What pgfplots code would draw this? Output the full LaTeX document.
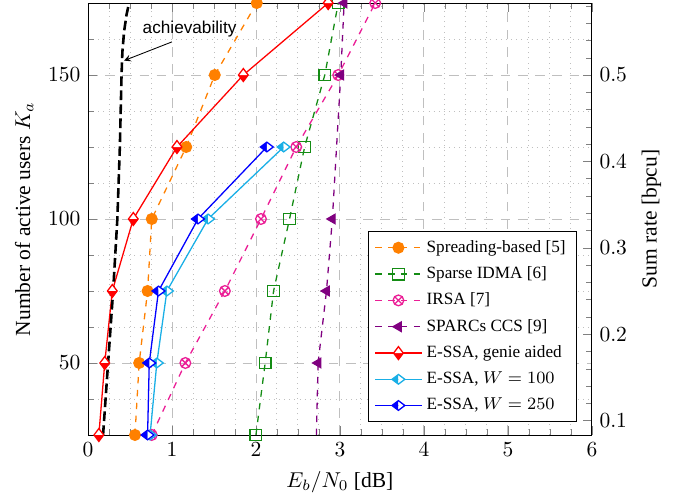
\documentclass[border=0pt]{standalone}
\usepackage{fontspec}
\setmainfont{Liberation Serif}
\setsansfont{Liberation Sans}
\usepackage{pgfplots}
\pgfplotsset{compat=1.18}
\usetikzlibrary{plotmarks}

\definecolor{cOrange}{RGB}{255,128,0}
\definecolor{cGreen}{RGB}{20,140,20}
\definecolor{cPink}{RGB}{235,30,150}
\definecolor{cPurple}{RGB}{128,0,128}
\definecolor{cCyan}{RGB}{25,175,230}

\begin{document}
\begin{tikzpicture}
\useasboundingbox (-40.9pt,-28.8pt) rectangle (276.3pt,202.3pt);
\begin{axis}[
  width=234.4pt, height=200.9pt, scale only axis,
  xmin=0, xmax=6, ymin=25, ymax=175,
  xtick={0,1,2,3,4,5,6}, ytick={50,100,150},
  minor x tick num=3,
  minor ytick={37.5,62.5,75,87.5,112.5,125,137.5,162.5},
  ytick pos=left,
  grid=both,
  major grid style={dash pattern=on 4.5pt off 3.5pt, gray!50},
  minor grid style={dotted, gray!50},
  xlabel={$E_b/N_0$ [dB]},
  ylabel={Number of active users $K_a$},
  legend style={at={(0.97,0.03)}, anchor=south east, font=\footnotesize, row sep=1.2pt},
  legend cell align=left,
  legend image code/.code={\draw[mark repeat=2,mark phase=2] plot coordinates {(0cm,0cm) (0.38cm,0cm) (0.76cm,0cm)};},
  every axis plot/.append style={semithick, mark size=2.5pt},
]
% Spreading-based
\addplot[cOrange, dashed, mark=*, mark options={solid}] coordinates {
  (0.56,25) (0.61,50) (0.71,75) (0.76,100) (1.17,125) (1.51,150) (2.01,175)};
\addlegendentry{Spreading-based [5]}
% Sparse IDMA
\addplot[cGreen, dashed, mark=square, mark options={solid}, mark size=2.7pt] coordinates {
  (2.00,25) (2.11,50) (2.21,75) (2.40,100) (2.58,125) (2.82,150) (2.98,175)};
\addlegendentry{Sparse IDMA [6]}
% IRSA
\addplot[cPink, dashed, mark=otimes, mark options={solid}] coordinates {
  (0.76,25) (1.16,50) (1.63,75) (2.06,100) (2.48,125) (2.98,150) (3.42,175)};
\addlegendentry{IRSA [7]}
% SPARCs CCS
\addplot[cPurple, dashed, mark=triangle*, mark options={solid, rotate=90}] coordinates {
  (2.74,50) (2.84,75) (2.91,100) (3.01,150) (3.05,175)};
\addlegendentry{SPARCs CCS [9]}
\addplot[cPurple, dashed, forget plot] coordinates {(2.72,25) (2.74,50)};
% E-SSA genie aided
\addplot[red, mark=halfdiamond*, mark size=3pt, mark options={solid, fill=red}] coordinates {
  (0.13,25) (0.20,50) (0.29,75) (0.54,100) (1.06,125) (1.85,150) (2.86,175)};
\addlegendentry{E-SSA, genie aided}
% E-SSA W=100
\addplot[cCyan, mark=halfdiamond*, mark size=3pt, mark options={solid, fill=cCyan, rotate=-90}] coordinates {
  (0.74,25) (0.82,50) (0.94,75) (1.43,100) (2.33,125)};
\addlegendentry{E-SSA, $W=100$}
% E-SSA W=250
\addplot[blue, mark=halfdiamond*, mark size=3pt, mark options={solid, fill=blue, rotate=-90}] coordinates {
  (0.71,25) (0.73,50) (0.84,75) (1.31,100) (2.13,125)};
\addlegendentry{E-SSA, $W=250$}
% achievability
\addplot[black, very thick, dash pattern=on 4.5pt off 2pt, forget plot] coordinates {
  (0.18,25) (0.24,50) (0.30,75) (0.35,100) (0.38,125) (0.40,150) (0.41,158) (0.43,165) (0.46,171) (0.49,175)};
\draw[->, >=stealth, thin] (axis cs:1.0,161.5) -- (axis cs:0.43,155);
\node[font=\footnotesize\sffamily] at (axis cs:1.21,166) {achievability};
\end{axis}
\begin{axis}[
  width=234.4pt, height=200.9pt, scale only axis,
  xmin=0, xmax=6, ymin=0.0833333, ymax=0.5833333,
  axis y line*=right, axis x line=none,
  ytick={0.1,0.2,0.3,0.4,0.5},
  minor ytick={0.12,0.14,0.16,0.18,0.22,0.24,0.26,0.28,0.32,0.34,0.36,0.38,0.42,0.44,0.46,0.48,0.52,0.54,0.56,0.58},
  ylabel={Sum rate [bpcu]},
]
\addplot[draw=none] coordinates {(0,0.1)};
\end{axis}
\end{tikzpicture}
\end{document}
